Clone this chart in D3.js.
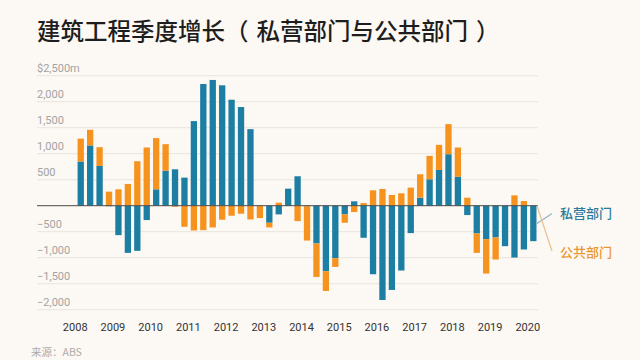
<!DOCTYPE html>
<html><head><meta charset="utf-8">
<script src="https://cdn.jsdelivr.net/npm/d3@7"></script>
<style>
html,body{margin:0;padding:0;background:#fcf8f3;}
svg{display:block;}
</style></head>
<body>
<svg id="chart" width="640" height="360"></svg>
<script>
// ---- data (quarterly, 2008 Q1 – 2020 Q1), A$ million ----
const years = [2008,2009,2010,2011,2012,2013,2014,2015,2016,2017,2018,2019,2020];
const privateSector = [850,1160,765,-10,-566,-907,-868,-276,315,675,700,540,1627,2340,2418,2315,2038,1897,1472,0,-328,-167,328,566,-10,-727,-1260,-1010,-167,84,-617,-1318,-1813,-1620,-1247,-527,154,508,688,990,559,-180,-534,-643,-611,-778,-997,-842,-682];
const publicSector = [440,300,360,270,315,418,855,1119,984,508,-20,-405,-476,-470,-418,-270,-193,-154,-264,-238,-90,58,0,-296,-660,-643,-379,-167,-161,-122,51,296,322,206,238,347,450,450,482,579,560,154,-373,-662,-424,0,199,90,0];
const yTicks = [-2000,-1500,-1000,-500,0,500,1000,1500,2000,2500];
const seriesNames = ["私营部门","公共部门"];
const colors = ["#1b7ea2","#f6921e"];
const legendColors = ["#2b7c9c","#e9962f"];

const rows = privateSector.map((p,i)=>({t: years[0] + i/4 + 0.16, p: p, q: publicSector[i]}));

const svg = d3.select("#chart");
const W = 640, H = 360;
svg.append("rect").attr("width",W).attr("height",H).attr("fill","#fcf8f3");

const x = d3.scaleLinear().domain([2008,2020]).range([74.7,527.3]);
const y = d3.scaleLinear().domain([-2000,2500]).range([309.7,75.7]);
const gridX0 = 37, gridX1 = 538;
const barW = 6.3;

// title
const title = svg.append("text").attr("x",37).attr("y",40)
  .attr("font-family","'Noto Sans CJK SC', sans-serif").attr("font-weight",500)
  .attr("font-size",23.5).attr("fill","#1e1e1e");
title.append("tspan").text("建筑工程季度增长（");
title.append("tspan").attr("dx",8).text("私营部门与公共部门");
title.append("tspan").attr("dx",8).text("）");

// gridlines + y labels
const yg = svg.append("g");
yg.selectAll("line").data(yTicks.filter(d=>d!==0)).join("line")
  .attr("x1",gridX0).attr("x2",gridX1)
  .attr("y1",d=>y(d)).attr("y2",d=>y(d))
  .attr("stroke","#e9e4de").attr("stroke-width",1);
const fmt = d3.format(",");
yg.selectAll("text").data(yTicks.filter(d=>d!==0)).join("text")
  .attr("x",gridX0).attr("y",d=>y(d)-4)
  .attr("font-family","Roboto, sans-serif").attr("font-size",11)
  .attr("fill","#a3a3a3")
  .text(d=> d===2500 ? "$" + fmt(d) + "m" : fmt(d));

// stacked bars
const stack = d3.stack().keys(["p","q"]).offset(d3.stackOffsetDiverging);
const layers = stack(rows);
svg.append("g").selectAll("g").data(layers).join("g")
  .attr("fill",(d,i)=>colors[i])
  .selectAll("rect").data(d=>d).join("rect")
  .attr("x",d=>x(d.data.t)-barW/2)
  .attr("width",barW)
  .attr("y",d=>y(Math.max(d[0],d[1])))
  .attr("height",d=>Math.abs(y(d[0])-y(d[1])));

// zero line
svg.append("line").attr("x1",gridX0).attr("x2",gridX1)
  .attr("y1",y(0)).attr("y2",y(0)).attr("stroke","#4a4a4a").attr("stroke-width",1);

// x axis labels
const xAxis = d3.axisBottom(x).tickValues(years).tickFormat(d3.format("d")).tickSize(0);
const gx = svg.append("g").attr("transform","translate(0,320)").call(xAxis);
gx.select(".domain").remove();
gx.selectAll("text").attr("font-family","Roboto, sans-serif").attr("font-size",11)
  .attr("fill","#333").attr("dy","0.71em");

// legend with leader lines from last bar
const last = layers[0].length-1;
const lp = layers[0][last], lq = layers[1][last];
const bx = x(rows[last].t) + barW/2 + 0.5;
const anchors = [
  {y0: y((lp[0]+lp[1])/2), y1: 213.5, ty: 214},
  {y0: y(lq[0]===lq[1] ? lq[0] : (lq[0]+lq[1])/2), y1: 251, ty: 253}
];
anchors.forEach((a,i)=>{
  svg.append("line").attr("x1",bx).attr("y1",a.y0).attr("x2",552).attr("y2",a.y1)
    .attr("stroke", i===0 ? "#8fb3c3" : "#eabf8f").attr("stroke-width",1.2);
  svg.append("text").attr("x",560).attr("y",a.ty).attr("dominant-baseline","middle")
    .attr("font-family","'Noto Sans CJK SC', sans-serif").attr("font-weight",500)
    .attr("font-size",13).attr("fill",legendColors[i]).text(seriesNames[i]);
});

// source
svg.append("text").attr("x",31).attr("y",356)
  .attr("font-family","'Noto Sans CJK SC', sans-serif").attr("font-size",10.5)
  .attr("fill","#ababab").text("来源：ABS");
</script>
</body></html>
